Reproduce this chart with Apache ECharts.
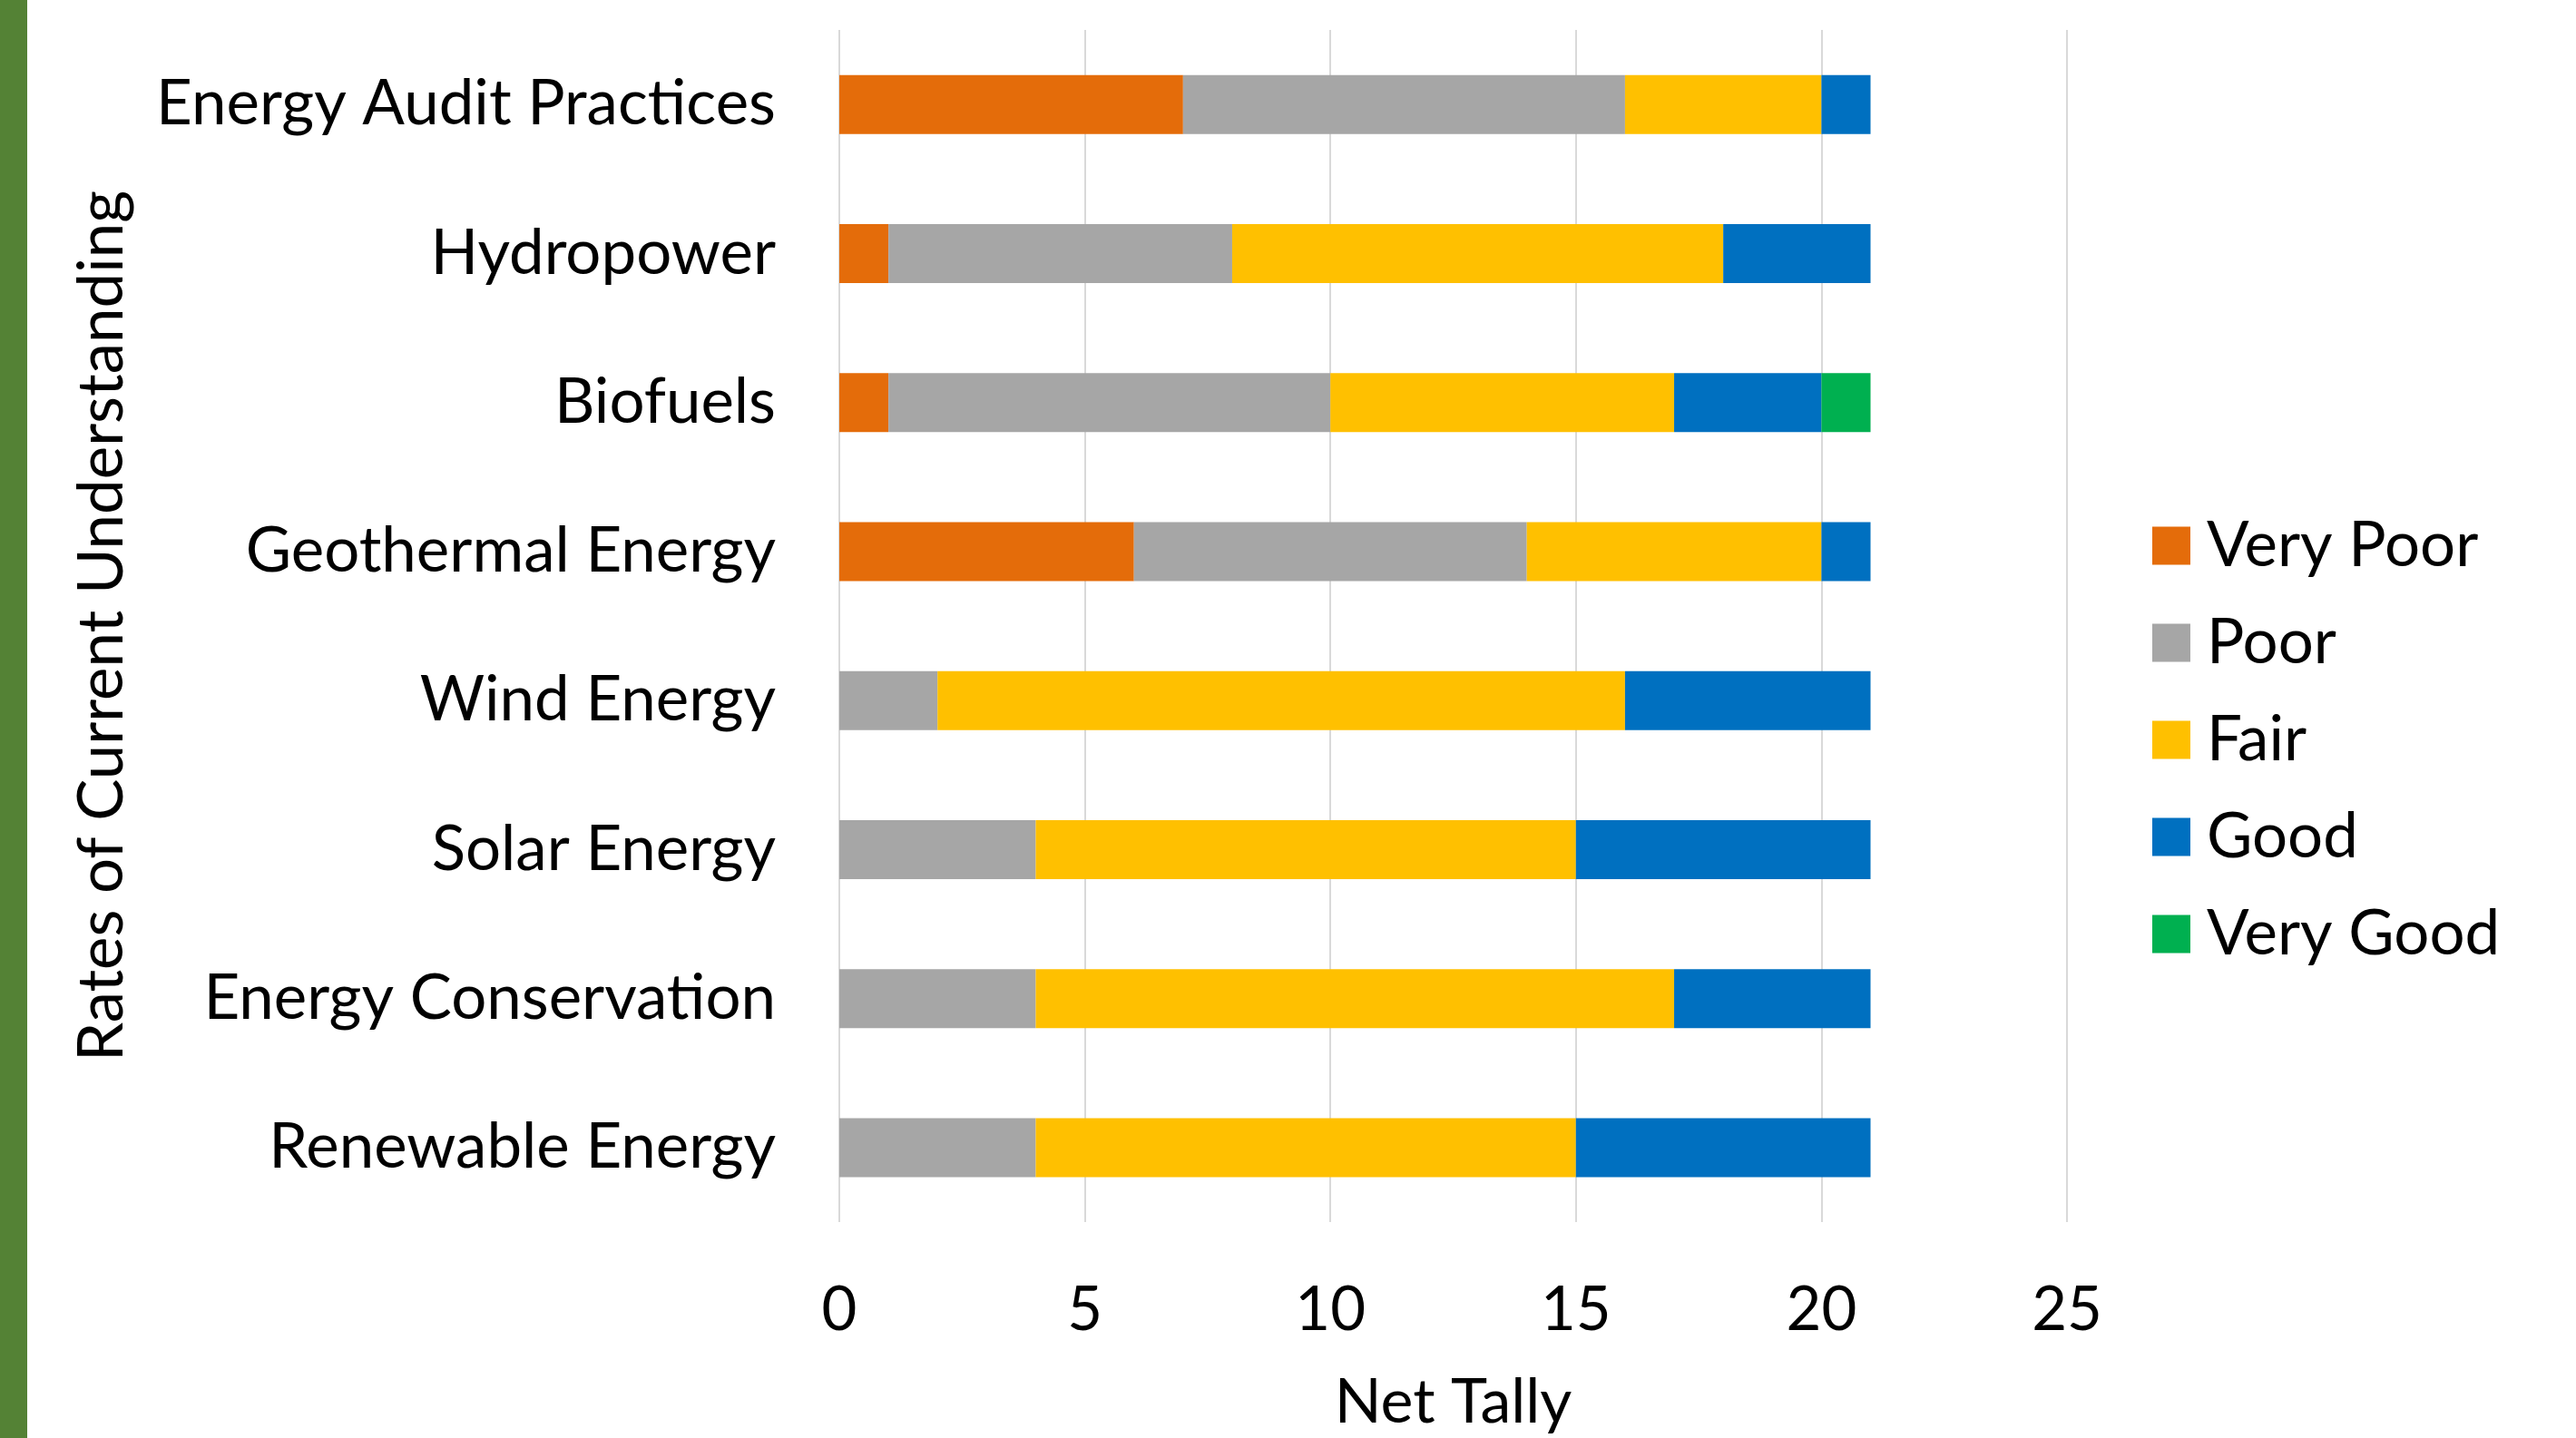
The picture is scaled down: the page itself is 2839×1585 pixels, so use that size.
<!DOCTYPE html>
<html>
<head>
<meta charset="utf-8">
<script src="https://cdn.jsdelivr.net/npm/echarts@6/dist/echarts.min.js"></script>
<style>
  html, body { margin: 0; padding: 0; background: #fff; }
  #main { width: 2839px; height: 1585px; }
</style>
</head>
<body>
<div id="main"></div>
<script>
// categories, listed bottom to top as the y axis draws them
var categories = ['Renewable Energy', 'Energy Conservation', 'Solar Energy', 'Wind Energy',
    'Geothermal Energy', 'Biofuels', 'Hydropower', 'Energy Audit Practices'];
var veryPoor = [0, 0, 0, 0, 6, 1, 1, 7];
var poor     = [4, 4, 4, 2, 8, 9, 7, 9];
var fair     = [11, 13, 11, 14, 6, 7, 10, 4];
var good     = [6, 4, 6, 5, 1, 3, 3, 1];
var veryGood = [0, 0, 0, 0, 0, 1, 0, 0];
var xTicks = [0, 5, 10, 15, 20, 25];

var seriesNames = ['Very Poor', 'Poor', 'Fair', 'Good', 'Very Good'];
var seriesData = [veryPoor, poor, fair, good, veryGood];
var colors = ['#E46C0A', '#A6A6A6', '#FFC000', '#0070C0', '#00B050'];

var font = 'Lato';

function shui() {
    var dom = document.getElementById('main');
    var myChart = echarts.init(dom);

    var series = seriesNames.map(function (name, i) {
        return {
            name: name,
            type: 'bar',
            stack: 'total',
            data: seriesData[i],
            barWidth: 65,
            itemStyle: { color: colors[i] }
        };
    });

    var option = {
        animation: false,
        backgroundColor: '#fff',
        color: colors,
        graphic: [{
            type: 'rect',
            left: 0,
            top: 0,
            shape: { width: 30, height: 1585 },
            style: { fill: '#548235' }
        }],
        grid: {
            left: 925,
            right: 561,
            top: 33,
            bottom: 236
        },
        legend: {
            orient: 'vertical',
            left: 2367,
            top: 562,
            itemWidth: 42,
            itemHeight: 42,
            itemGap: 38,
            icon: 'rect',
            data: seriesNames,
            textStyle: {
                fontFamily: font,
                fontSize: 69,
                color: '#000',
                lineHeight: 42,
                padding: [0, 0, 0, 13]
            }
        },
        xAxis: {
            type: 'value',
            min: xTicks[0],
            max: xTicks[xTicks.length - 1],
            interval: 5,
            name: 'Net Tally',
            nameLocation: 'middle',
            nameGap: 165,
            nameTextStyle: { fontFamily: font, fontSize: 68, color: '#000' },
            axisLine: { show: false },
            axisTick: { show: false },
            axisLabel: { fontFamily: font, fontSize: 67, color: '#000', margin: 64 },
            splitLine: { lineStyle: { color: '#D9D9D9', width: 2 } }
        },
        yAxis: {
            type: 'category',
            data: categories,
            name: 'Rates of Current Understanding',
            nameLocation: 'middle',
            nameRotate: 90,
            nameGap: 778,
            nameTextStyle: { fontFamily: font, fontSize: 69, color: '#000' },
            axisLine: { show: false },
            axisTick: { show: false },
            axisLabel: { fontFamily: font, fontSize: 69, color: '#000', margin: 70 },
            splitLine: { show: false }
        },
        series: series
    };
    myChart.setOption(option, true);
    window.onresize = myChart.resize;
}
shui();
</script>
</body>
</html>
